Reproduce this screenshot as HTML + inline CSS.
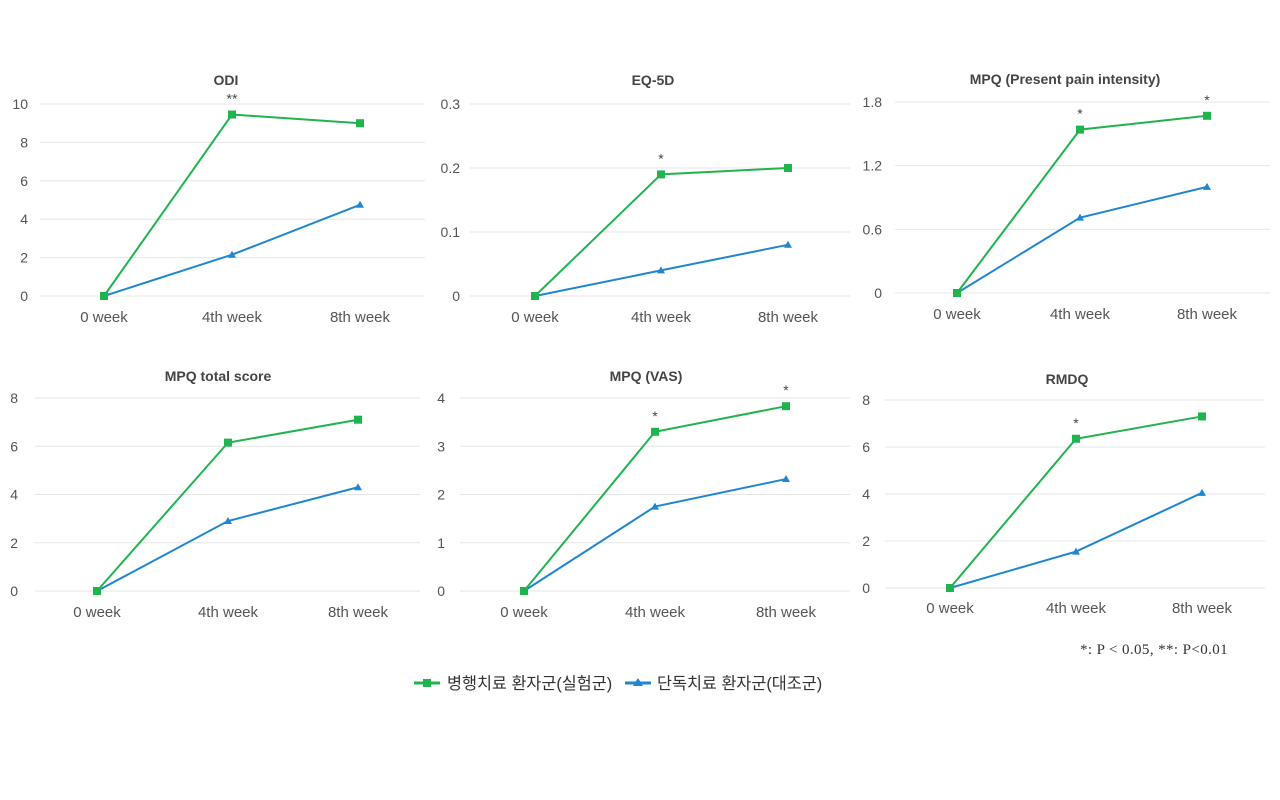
<!DOCTYPE html>
<html><head><meta charset="utf-8"><style>
html,body{margin:0;padding:0;background:#fff;}
svg{display:block;}
</style></head><body>
<svg id="c" width="1280" height="800" xmlns="http://www.w3.org/2000/svg"></svg>
<script>
const categories = ["0 week","4th week","8th week"];
const titles = ["ODI","EQ-5D","MPQ (Present pain intensity)","MPQ total score","MPQ (VAS)","RMDQ"];
const greenOdi = [0,9.45,9.0], blueOdi = [0,2.15,4.75];
const greenEq = [0,0.19,0.2], blueEq = [0,0.04,0.08];
const greenPpi = [0,1.54,1.67], bluePpi = [0,0.71,1.0];
const greenTot = [0,6.15,7.1], blueTot = [0,2.9,4.3];
const greenVas = [0,3.3,3.83], blueVas = [0,1.75,2.32];
const greenRm = [0,6.35,7.3], blueRm = [0,1.55,4.05];
const ticksOdi = ["0","2","4","6","8","10"];
const ticksEq = ["0","0.1","0.2","0.3"];
const ticksPpi = ["0","0.6","1.2","1.8"];
const ticksTot = ["0","2","4","6","8"];
const ticksVas = ["0","1","2","3","4"];
const ticksRm = ["0","2","4","6","8"];
const starsOdi = ["","**",""], starsEq = ["","*",""], starsPpi = ["","*","*"];
const starsTot = ["","",""], starsVas = ["","*","*"], starsRm = ["","*",""];

const layout = [
 {g:greenOdi,b:blueOdi,t:ticksOdi,s:starsOdi,y0:296,y1:104,xs:[104,232,360],gx0:40,gx1:425,lx:28,tx:226,ty:85,xly:322},
 {g:greenEq,b:blueEq,t:ticksEq,s:starsEq,y0:296,y1:104,xs:[535,661,788],gx0:470,gx1:850,lx:460,tx:653,ty:85,xly:322},
 {g:greenPpi,b:bluePpi,t:ticksPpi,s:starsPpi,y0:293,y1:102,xs:[957,1080,1207],gx0:895,gx1:1270,lx:882,tx:1065,ty:84,xly:319},
 {g:greenTot,b:blueTot,t:ticksTot,s:starsTot,y0:591,y1:398,xs:[97,228,358],gx0:35,gx1:420,lx:18,tx:218,ty:381,xly:617},
 {g:greenVas,b:blueVas,t:ticksVas,s:starsVas,y0:591,y1:398,xs:[524,655,786],gx0:460,gx1:850,lx:445,tx:646,ty:381,xly:617},
 {g:greenRm,b:blueRm,t:ticksRm,s:starsRm,y0:588,y1:400,xs:[950,1076,1202],gx0:885,gx1:1265,lx:870,tx:1067,ty:384,xly:613}
];
const NS="http://www.w3.org/2000/svg";
const svg=document.getElementById('c');
function el(tag,attrs,parent){const e=document.createElementNS(NS,tag);for(const k in attrs)e.setAttribute(k,attrs[k]);(parent||svg).appendChild(e);return e;}
const GREEN="#20b44f", BLUE="#1f86cf";
layout.forEach((p,i)=>{
  const grp=el('g',{});
  
  
  const maxV=parseFloat(p.t[p.t.length-1]);
  const ys=v=>p.y0+(p.y1-p.y0)*v/maxV;
  const t=el('text',{x:p.tx,y:p.ty,'text-anchor':'middle','font-family':'Liberation Sans, sans-serif','font-size':14,'font-weight':'bold',fill:'#444'},grp);
  t.textContent=titles[i];
  
  
  p.t.forEach(lab=>{
    const y=ys(parseFloat(lab));
    const ln=el('line',{x1:p.gx0,x2:p.gx1,y1:y,y2:y,stroke:'#e6e6e6','stroke-width':1},grp);
    
    
    const tl=el('text',{x:p.lx,y:y+5,'text-anchor':'end','font-family':'Liberation Sans, sans-serif','font-size':14,fill:'#555'},grp);
    tl.textContent=lab;
    
    
  });
  categories.forEach((c,j)=>{
    const xl=el('text',{x:p.xs[j],y:p.xly,'text-anchor':'middle','font-family':'Liberation Sans, sans-serif','font-size':15,fill:'#555'},grp);
    xl.textContent=c;
    
    
  });
  [[p.b,BLUE,'control'],[p.g,GREEN,'treatment']].forEach(([vals,col,nm])=>{
    const pts=vals.map((v,j)=>p.xs[j]+','+ys(v)).join(' ');
    const pl=el('polyline',{points:pts,fill:'none',stroke:col,'stroke-width':2},grp);
    
    
    vals.forEach((v,j)=>{
      const x=p.xs[j],y=ys(v);
      let m;
      if(nm==='treatment') m=el('rect',{x:x-4,y:y-4,width:8,height:8,fill:col},grp);
      else m=el('polygon',{points:(x)+','+(y-4)+' '+(x-4)+','+(y+3)+' '+(x+4)+','+(y+3),fill:col},grp);
      
      
    });
  });
  p.s.forEach((s,j)=>{
    if(!s)return;
    const st=el('text',{x:p.xs[j],y:ys(p.g[j])-11,'text-anchor':'middle','font-family':'Liberation Sans, sans-serif','font-size':14,fill:'#444'},grp);
    st.textContent=s;
    
    
  });
});
const fn=el('text',{x:1080,y:654,'font-family':'Liberation Serif, serif','font-size':15,'letter-spacing':'0.4',fill:'#333'});
fn.textContent='*: P < 0.05, **: P<0.01';


const lg=el('g',{});


const l1=el('line',{x1:414,x2:440,y1:683,y2:683,stroke:GREEN,'stroke-width':3},lg);


const r1=el('rect',{x:423,y:679,width:8,height:8,fill:GREEN},lg);


const t1=el('text',{x:447,y:689,'font-family':'Liberation Sans, Noto Sans CJK KR, sans-serif','font-size':16.3,fill:'#333'},lg);
t1.textContent='병행치료 환자군(실험군)';


const l2=el('line',{x1:625,x2:651,y1:683,y2:683,stroke:BLUE,'stroke-width':3},lg);


const r2=el('polygon',{points:'638,678 633,686 643,686',fill:BLUE},lg);


const t2=el('text',{x:657,y:689,'font-family':'Liberation Sans, Noto Sans CJK KR, sans-serif','font-size':16.3,fill:'#333'},lg);
t2.textContent='단독치료 환자군(대조군)';


</script>
</body></html>
